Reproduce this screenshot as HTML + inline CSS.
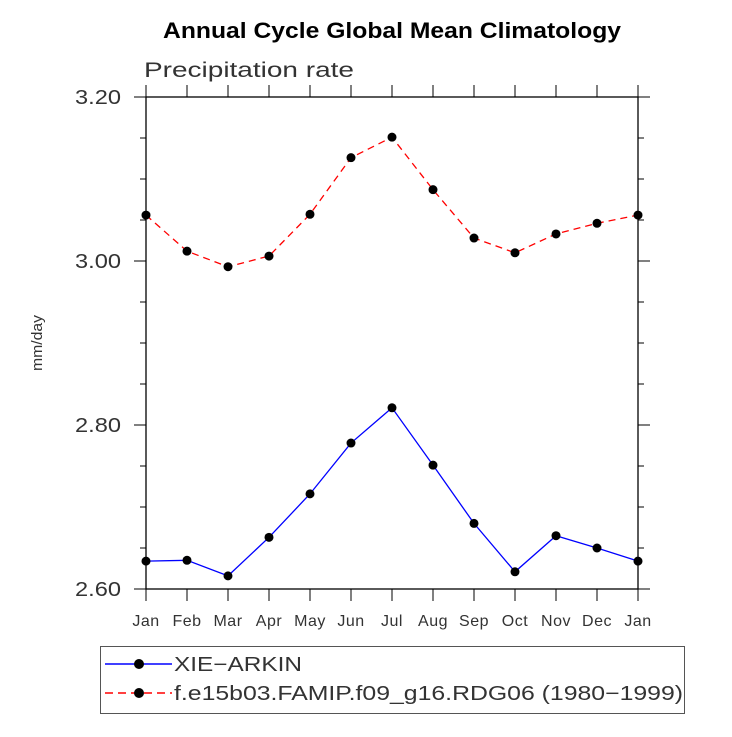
<!DOCTYPE html>
<html><head><meta charset="utf-8"><style>
body{margin:0;background:#fff;}
svg text{font-family:"Liberation Sans",sans-serif;}
</style></head><body>
<svg id="chart" width="732" height="732" viewBox="0 0 732 732" xmlns="http://www.w3.org/2000/svg">
<rect width="732" height="732" fill="#fff"/>
<text x="163" y="38" textLength="458" lengthAdjust="spacingAndGlyphs" font-size="22" font-weight="bold" fill="#000">Annual Cycle Global Mean Climatology</text>
<text x="144" y="77" textLength="210" lengthAdjust="spacingAndGlyphs" font-size="21" fill="#333">Precipitation rate</text>
<text transform="translate(42,343) rotate(-90)" text-anchor="middle" font-size="15" fill="#333" textLength="56" lengthAdjust="spacingAndGlyphs">mm/day</text>
<g id="axes"></g>
<g id="series"></g>
<g>
<rect x="100.5" y="646.5" width="584" height="67" fill="none" stroke="#555" stroke-width="1"/>
<line x1="105" y1="664" x2="172" y2="664" stroke="#0000ff" stroke-width="1.5"/>
<circle cx="139" cy="664" r="5" fill="#000"/>
<text x="174" y="671" font-size="20" fill="#333" textLength="128" lengthAdjust="spacingAndGlyphs">XIE−ARKIN</text>
<line x1="105" y1="693" x2="172" y2="693" stroke="#ff0000" stroke-width="1.5" stroke-dasharray="8,5"/>
<circle cx="139" cy="693" r="5" fill="#000"/>
<text x="174" y="700" font-size="20" fill="#333" textLength="509" lengthAdjust="spacingAndGlyphs">f.e15b03.FAMIP.f09_g16.RDG06 (1980−1999)</text>
</g>
</svg>
<script>
const months=["Jan","Feb","Mar","Apr","May","Jun","Jul","Aug","Sep","Oct","Nov","Dec","Jan"];
const obsValues=[2.634,2.635,2.616,2.663,2.716,2.778,2.821,2.751,2.680,2.621,2.665,2.650,2.634];
const modelValues=[3.056,3.012,2.993,3.006,3.057,3.126,3.151,3.087,3.028,3.010,3.033,3.046,3.056];
const yTickLabels=["2.60","2.80","3.00","3.20"];
const yTickValues=[2.6,2.8,3.0,3.2];
const L=146,R=638,T=97,B=589,ymin=2.6,ymax=3.2;
const NS="http://www.w3.org/2000/svg";
function xs(i){return L+i*(R-L)/(months.length-1);}
function ys(v){return B-(v-ymin)/(ymax-ymin)*(B-T);}
function mk(tag,attrs,parent){const e=document.createElementNS(NS,tag);for(const k in attrs)e.setAttribute(k,attrs[k]);parent.appendChild(e);return e;}
const ax=document.getElementById('axes');
const frame=mk('rect',{x:L,y:T,width:R-L,height:B-T,fill:'none',stroke:'#000','stroke-width':1.3},ax);


for(let i=0;i<months.length;i++){
  const x=xs(i);
  mk('line',{x1:x,y1:B,x2:x,y2:B+12,stroke:'#000'},ax);
  mk('line',{x1:x,y1:T,x2:x,y2:T-12,stroke:'#000'},ax);
  const t=mk('text',{x:x,y:B+37,'text-anchor':'middle','font-size':16,fill:'#333','letter-spacing':'0.5'},ax);
  t.textContent=months[i];
  
  
}
for(let v=ymin;v<=ymax+1e-9;v+=0.05){
  const y=ys(v);const major=Math.abs(Math.round(v*5)-v*5)<1e-6;const len=major?12:6;
  mk('line',{x1:L,y1:y,x2:L-len,y2:y,stroke:'#000'},ax);
  mk('line',{x1:R,y1:y,x2:R+len,y2:y,stroke:'#000'},ax);
}
yTickValues.forEach((v,i)=>{
  const t=mk('text',{x:L-25,y:ys(v)+7,'text-anchor':'end','font-size':20,fill:'#333',textLength:46,lengthAdjust:'spacingAndGlyphs'},ax);
  t.textContent=yTickLabels[i];
  
  
});
const sg=document.getElementById('series');
function drawSeries(vals,color,dash,name){
  const pts=vals.map((v,i)=>xs(i)+','+ys(v)).join(' ');
  const pl=mk('polyline',{points:pts,fill:'none',stroke:color,'stroke-width':1.3},sg);
  if(dash)pl.setAttribute('stroke-dasharray',dash);
  
  
  vals.forEach((v,i)=>{
    const c=mk('circle',{cx:xs(i),cy:ys(v),r:4.5,fill:'#000'},sg);
    
    
  });
}
drawSeries(modelValues,'#ff0000','7,5','model');
drawSeries(obsValues,'#0000ff',null,'xie-arkin');
</script>
</body></html>
